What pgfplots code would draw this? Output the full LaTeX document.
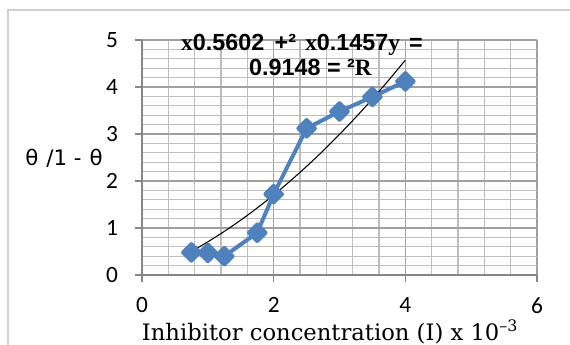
\documentclass[border=0pt]{standalone}
\usepackage{pgfplots}
\pgfplotsset{compat=1.18}
\usepackage{fontspec}
\setmainfont{Carlito}
\newfontfamily\eqsans{Liberation Sans}
\newfontfamily\eqserif{Liberation Serif}
\newfontfamily\labserif{DejaVu Serif}
\newfontfamily\labsans{DejaVu Sans}
\definecolor{series}{HTML}{4F81BD}
\definecolor{majgray}{HTML}{A0A0A0}
\definecolor{mingray}{HTML}{BDBDBD}
\definecolor{axisgray}{HTML}{868686}
\definecolor{framegray}{HTML}{D0D0D0}
\begin{document}
\begin{tikzpicture}[x=1pt,y=1pt]
\useasboundingbox (0,0) rectangle (427.5,258);
\draw[framegray, line width=0.9pt] (6,-5) -- (6,250.5) -- (440,250.5);
\begin{axis}[
  at={(106.5pt,51.75pt)}, anchor=south west,
  scale only axis, width=296.25pt, height=176.25pt,
  xmin=0, xmax=6, ymin=0, ymax=5,
  xtick={0,2,4,6}, ytick={0,1,2,3,4,5},
  minor x tick num=4, minor y tick num=4,
  grid=both,
  major grid style={draw=majgray, line width=1pt},
  minor grid style={draw=mingray, line width=1pt},
  axis lines=left,
  axis line style={-, draw=axisgray, line width=1pt},
  tick style={draw=axisgray, line width=1pt},
  tick align=outside,
  major tick length=5.5pt, minor tick length=0pt,
  tick label style={font=\fontsize{17.5}{17.5}\selectfont},
  yticklabel style={xshift=-9pt},
  xticklabel style={yshift=-8pt},
  /pgf/number format/assume math mode=true,
  clip=false,
]
\addplot[series, line width=3pt, line join=round, mark=square*, mark size=4.4pt, mark options={rotate=45, solid, fill=series}]
  coordinates {(0.75,0.48)(1,0.47)(1.25,0.40)(1.75,0.90)(2,1.72)(2.5,3.12)(3,3.48)(3.5,3.79)(4,4.12)};
\addplot[black, line width=0.8pt, smooth]
  coordinates {(0.75,0.502)(1,0.706)(1.25,0.928)(1.5,1.168)(1.75,1.427)(2,1.703)(2.25,1.998)(2.5,2.311)(2.75,2.642)(3,2.992)(3.25,3.360)(3.5,3.745)(3.75,4.150)(4,4.572)};
\node[font=\fontsize{17.5}{17.5}\selectfont\bfseries\eqsans] at (axis cs:2.43,4.90) {{\eqserif x}0.5602\hspace{3pt} +²\hspace{2pt} {\eqserif x}0.1457{\eqserif y}\hspace{2pt} =};
\node[font=\fontsize{17.5}{17.5}\selectfont\bfseries\eqsans] at (axis cs:2.56,4.42) {0.9148 = ²{\eqserif R}};
\end{axis}
\node[font=\fontsize{16}{16}\selectfont\labsans] at (48,139.5) {θ\hspace{6pt}/1\hspace{5pt}-\hspace{6pt}θ};
\node[font=\fontsize{17}{17}\selectfont\labserif] at (247.5,9) {Inhibitor concentration (I) x 10\textsuperscript{–3}};
\end{tikzpicture}
\end{document}
